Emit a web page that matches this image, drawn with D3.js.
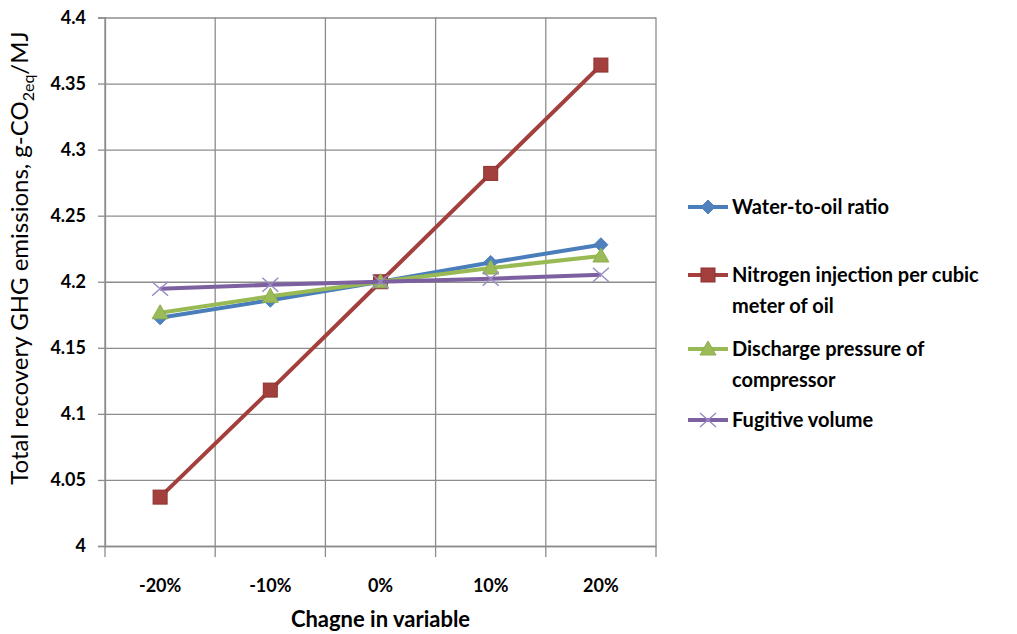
<!DOCTYPE html>
<html>
<head>
<meta charset="utf-8">
<script src="https://cdn.jsdelivr.net/npm/d3@7"></script>
<style>
  body { margin: 0; background: #fff; }
  svg text { font-family: Lato, "Open Sans", sans-serif; font-weight: bold; fill: #000; }
</style>
</head>
<body>
<svg id="chart" width="1017" height="634"></svg>
<script>
// chart data
var categories = ['-20%', '-10%', '0%', '10%', '20%']
var waterToOil = [4.1727, 4.186, 4.2, 4.2146, 4.228]
var nitrogen = [4.037, 4.118, 4.2, 4.282, 4.364]
var discharge = [4.1765, 4.189, 4.2, 4.2104, 4.2195]
var fugitive = [4.1947, 4.1977, 4.2, 4.2023, 4.2053]
var yTicks = [4, 4.05, 4.1, 4.15, 4.2, 4.25, 4.3, 4.35, 4.4]
var seriesNames = [['Water-to-oil ratio'], ['Nitrogen injection per cubic', 'meter of oil'], ['Discharge pressure of', 'compressor'], ['Fugitive volume']]

var series = [
    { name: seriesNames[0], values: waterToOil, line: '#4A7EBB', fill: '#4F81BD', stroke: '#4A7EBB', marker: 'diamond' },
    { name: seriesNames[1], values: nitrogen, line: '#A33F3C', fill: '#A33F3C', stroke: '#8C3330', marker: 'square' },
    { name: seriesNames[2], values: discharge, line: '#98B954', fill: '#9BBB59', stroke: '#8FAE4F', marker: 'triangle' },
    { name: seriesNames[3], values: fugitive, line: '#7D60A0', fill: 'none', stroke: '#9A8AC6', marker: 'x' }
]

var margin = { top: 17.5, right: 361, bottom: 88, left: 105 },
    width = 1017 - margin.left - margin.right,
    height = 634 - margin.top - margin.bottom

var svg = d3.select('#chart')
var g = svg.append('g')
    .attr('transform', 'translate(' + margin.left + ',' + margin.top + ')')

var x = d3.scaleBand().domain(categories).range([0, width])
var y = d3.scaleLinear().domain([4, 4.4]).range([height, 0])

// gridlines
g.append('g')
    .attr('class', 'grid')
    .call(d3.axisLeft(y).tickValues(yTicks).tickSize(-width).tickFormat(''))
var bounds = categories.map(function (c) { return x(c) }).concat([width])
g.selectAll('.vgrid')
    .data(bounds)
    .enter().append('line')
    .attr('class', 'vgrid')
    .attr('x1', function (d) { return d }).attr('x2', function (d) { return d })
    .attr('y1', 0).attr('y2', height + 11)
    .attr('stroke', '#8c8c8c').attr('stroke-width', 1.3)
g.selectAll('.grid .tick line').attr('stroke', '#8c8c8c').attr('stroke-width', 1.3)
g.selectAll('.grid .domain').remove()

// y axis
var yAxis = g.append('g')
    .call(d3.axisLeft(y).tickValues(yTicks).tickSize(7).tickPadding(12).tickFormat(d3.format('')))
yAxis.selectAll('.tick line').attr('stroke', '#8c8c8c').attr('stroke-width', 1.3)
yAxis.select('.domain').attr('stroke', '#8c8c8c').attr('stroke-width', 1.3)
yAxis.selectAll('text').style('font-size', '18px')

// x axis labels
g.append('g')
    .attr('transform', 'translate(0,' + height + ')')
    .call(d3.axisBottom(x).tickSize(0).tickPadding(33))
    .call(function (a) { a.select('.domain').attr('stroke', '#8c8c8c').attr('stroke-width', 1.3) })
    .selectAll('text').style('font-size', '18px')

var cx = function (i) { return x(categories[i]) + x.bandwidth() / 2 }

var line = d3.line()
    .x(function (d, i) { return cx(i) })
    .y(function (d) { return y(d) })

function drawMarker(sel, s) {
    if (s.marker === 'diamond') {
        sel.append('path').attr('d', 'M0,-7L7,0L0,7L-7,0Z').attr('fill', s.fill).attr('stroke', s.stroke)
    } else if (s.marker === 'square') {
        sel.append('rect').attr('x', -7).attr('y', -7).attr('width', 14).attr('height', 14)
            .attr('fill', s.fill).attr('stroke', s.stroke)
    } else if (s.marker === 'triangle') {
        sel.append('path').attr('d', 'M0,-8L8,6L-8,6Z').attr('fill', s.fill).attr('stroke', s.stroke)
    } else {
        sel.append('path').attr('d', 'M-8,-7L8,7M-8,7L8,-7').attr('fill', 'none')
            .attr('stroke', s.stroke).attr('stroke-width', 1.5)
    }
}

series.forEach(function (s) {
    g.append('path')
        .datum(s.values)
        .attr('fill', 'none')
        .attr('stroke', s.line)
        .attr('stroke-width', 4)
        .attr('d', line)
    g.selectAll(null)
        .data(s.values)
        .enter().append('g')
        .attr('transform', function (d, i) { return 'translate(' + cx(i) + ',' + y(d) + ')' })
        .each(function () { drawMarker(d3.select(this), s) })
})

// axis titles
svg.append('text')
    .attr('x', margin.left + width / 2)
    .attr('y', 627)
    .attr('text-anchor', 'middle')
    .style('font-size', '22px')
    .text('Chagne in variable')

var yt = svg.append('text')
    .attr('transform', 'translate(28,258) rotate(-90)')
    .attr('text-anchor', 'middle')
    .style('font-size', '24px')
    .style('font-weight', 'normal')
yt.append('tspan').text('Total recovery GHG emissions, g-CO')
yt.append('tspan').attr('dy', 6).style('font-size', '16px').text('2eq')
yt.append('tspan').attr('dy', -6).text('/MJ')

// legend
var legendRows = [207, 275, 349, 420]
var legend = svg.append('g')
series.forEach(function (s, k) {
    var lg = legend.append('g').attr('transform', 'translate(688,' + legendRows[k] + ')')
    lg.append('line').attr('x1', 0).attr('x2', 40).attr('y1', 0).attr('y2', 0)
        .attr('stroke', s.line).attr('stroke-width', 4)
    drawMarker(lg.append('g').attr('transform', 'translate(20,0)'), s)
    s.name.forEach(function (t, j) {
        lg.append('text')
            .attr('x', 44)
            .attr('y', j * 31)
            .attr('dy', '0.35em')
            .style('font-size', '20px')
            .text(t)
    })
})
</script>
</body>
</html>
